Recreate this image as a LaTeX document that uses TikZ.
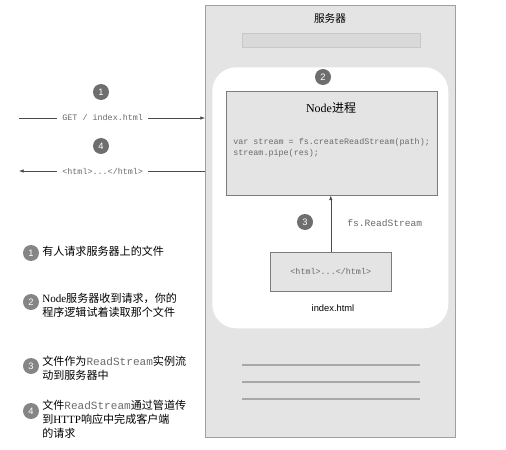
\documentclass[tikz,border=0pt]{standalone}
\usepackage{fontspec}
\setmainfont{Liberation Serif}
\setsansfont{Liberation Sans}
\setmonofont{Liberation Mono}
\newfontfamily\cjk{Noto Sans CJK SC}
\usetikzlibrary{arrows.meta,positioning,calc}
\definecolor{servergray}{HTML}{E4E4E4}
\definecolor{serverline}{HTML}{A0A0A0}
\definecolor{barfill}{HTML}{D9D9D9}
\definecolor{barline}{HTML}{C8C8C8}
\definecolor{boxline}{HTML}{7C7C7C}
\definecolor{numgray}{HTML}{6E6E6E}
\definecolor{legendnum}{HTML}{858585}
\definecolor{codegray}{HTML}{6A6A6A}
\definecolor{sepgray}{HTML}{A8A8A8}
\definecolor{arrowgray}{HTML}{4A4A4A}

\begin{document}
\begin{tikzpicture}[%
    x=0.75pt,y=-0.75pt,%
    num/.style={circle,fill=numgray,text=white,inner sep=0pt,minimum size=12pt,%
      font=\sffamily\fontsize{7}{7}\selectfont},%
    legendnum/.style={num,fill=legendnum},%
    code/.style={font=\ttfamily\fontsize{6.3}{8.4}\selectfont,text=codegray},%
    legend/.style={anchor=north west,align=left,inner sep=0pt,%
      font=\cjk\fontsize{8.3}{10.5}\selectfont},%
    box/.style={draw=boxline,fill=servergray,anchor=north west,inner sep=0pt},%
    arr/.style={draw=arrowgray,-{Latex[length=3.5pt,width=2.6pt]}},%
  ]
  \useasboundingbox (0,0) rectangle (506,449);

  %
  % Serveur
  %
  \node[draw=serverline,fill=servergray,anchor=north west,inner sep=0pt,%
    minimum width=187.5pt,minimum height=324pt] (server) at (205,5) {};%
  \node[font=\cjk\fontsize{8}{8}\selectfont] (servertitle) at (330,18) {服务器};%
  \node[draw=barline,fill=barfill,anchor=north west,inner sep=0pt,%
    minimum width=133.5pt,minimum height=10.5pt] (bar) at (242,33) {};%

  % Zone blanche
  \node[fill=white,rounded corners=18pt,anchor=north west,inner sep=0pt,%
    minimum width=177pt,minimum height=195.75pt] (panel) at (212,67) {};%
  \node[num] (n2) at (323,77) {2};%

  % Processus Node
  \node[box,minimum width=158.25pt,minimum height=78pt] (nodebox) at (226,91) {};%
  \node[font=\fontsize{9}{9}\selectfont] (nodetitle) at (331,108) {Node{\cjk 进程}};%
  \node[code,anchor=north west,align=left,inner sep=0pt] (nodecode) at (233,138)
  {var stream = fs.createReadStream(path);\\stream.pipe(res);};%

  % Fichier
  \node[box,minimum width=90.75pt,minimum height=29.25pt] (htmlbox) at (270,252) {};%
  \node[code] (htmltext) at (htmlbox.center) {<html>...</html>};%
  \node[font=\sffamily\fontsize{7}{7}\selectfont] (indexname) at (333,308) {index.html};%

  \draw[arr] (htmlbox.north) -- (htmlbox.north |- nodebox.south);%
  \node[num] (n3) at (305,222) {3};%
  \node[code,font=\ttfamily\fontsize{7.2}{7.2}\selectfont,anchor=west,inner sep=0pt]
  (streamlabel) at (347,223) {fs.ReadStream};%

  % Lignes du bas
  \foreach \y in {365,382,399}{%
    \draw[sepgray,line width=0.8pt] (242,\y) -- (420,\y);%
  }

  %
  % Client
  %
  \node[num] (n1) at (101,92) {1};%
  \coordinate (req) at (19,118);%
  \draw[arr] (req) -- node[code,fill=white,pos=0.45,inner xsep=4pt] (reqlabel)
  {GET / index.html} (req -| server.west);%

  \node[num] (n4) at (101,146) {4};%
  \coordinate (resp) at (19,171);%
  \draw[arr] (resp -| server.west) -- node[code,fill=white,pos=0.55,inner xsep=4pt]
  (resplabel) {<html>...</html>} (resp);%

  %
  % Légende
  %
  \node[legendnum] (l1) at (31,253) {1};%
  \node[legend] (t1) at (42,245.5) {有人请求服务器上的文件};%

  \node[legendnum] (l2) at (31,302) {2};%
  \node[legend] (t2) at (42,292.5)
  {{\rmfamily Node}服务器收到请求，你的\\程序逻辑试着读取那个文件};%

  \node[legendnum] (l3) at (31,366) {3};%
  \node[legend] (t3) at (42,355.5)
  {文件作为{\ttfamily\color{codegray}ReadStream}实例流\\动到服务器中};%

  \node[legendnum] (l4) at (31,411) {4};%
  \node[legend] (t4) at (42,399.5)
  {文件{\ttfamily\color{codegray}ReadStream}通过管道传\\到{\rmfamily HTTP}响应中完成客户端\\的请求};%

\end{tikzpicture}
\end{document}
